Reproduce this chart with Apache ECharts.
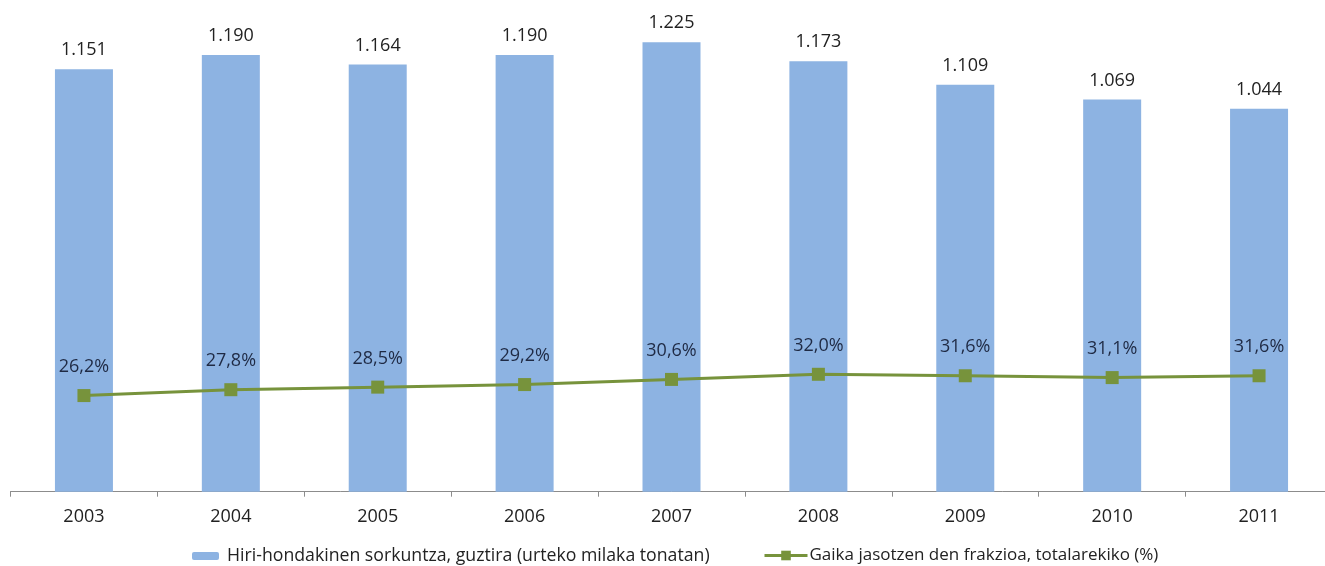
<!DOCTYPE html>
<html>
<head>
<meta charset="utf-8">
<script src="https://cdn.jsdelivr.net/npm/echarts@6/dist/echarts.min.js"></script>
<style>html,body{margin:0;padding:0;background:#fff;overflow:hidden}#c{width:1340px;height:566px}</style>
</head>
<body>
<div id="c"></div>
<script>
var categories = ['2003','2004','2005','2006','2007','2008','2009','2010','2011'];
var generation = [1151, 1190, 1164, 1190, 1225, 1173, 1109, 1069, 1044];
var separateFraction = [26.2, 27.8, 28.5, 29.2, 30.6, 32.0, 31.6, 31.1, 31.6];
var barName = 'Hiri-hondakinen sorkuntza, guztira (urteko milaka tonatan)';
var lineName = 'Gaika jasotzen den frakzioa, totalarekiko (%)';

var FONT = '"Open Sans", "Noto Sans", sans-serif';
function fmtThousands(v){ return String(v).replace(/\B(?=(\d{3})+(?!\d))/g, '.'); }
function fmtPct(v){ return v.toFixed(1).replace('.', ',') + '%'; }

var chart = echarts.init(document.getElementById('c'), null, {renderer:'canvas'});
chart.setOption({
  animation: false,
  backgroundColor: '#ffffff',
  grid: { left: 10.5, width: 1322, top: 14.7, height: 477, containLabel: false },
  legend: [
    { data: [barName], left: 192, top: 547, padding: 0, itemWidth: 27, itemHeight: 8, itemGap: 8,
      textStyle: { fontFamily: FONT, fontSize: 17.7, color: '#222', padding: [0,0,0,3] } },
    { data: [lineName], left: 763, top: 547, padding: 0, itemWidth: 43, itemHeight: 12, itemGap: 2,
      lineStyle: { width: 3 },
      textStyle: { fontFamily: FONT, fontSize: 17, color: '#222', padding: [0,0,0,-3] } }
  ],
  xAxis: {
    type: 'category', data: categories, boundaryGap: true,
    axisLine: { show: true, lineStyle: { color: '#8c8c8c', width: 1 } },
    axisTick: { show: true, length: 5, inside: false, lineStyle: { color: '#8c8c8c' } },
    axisLabel: { margin: 16, fontFamily: FONT, fontSize: 18, color: '#222' }
  },
  yAxis: [
    { type: 'value', min: 0, max: 1300, show: false, splitLine: { show: false } },
    { type: 'value', min: 0, max: 130, show: false, splitLine: { show: false } }
  ],
  series: [
    { name: barName, type: 'bar', data: generation, yAxisIndex: 0, barWidth: 58,
      itemStyle: { color: '#8DB3E2' },
      label: { show: true, position: 'top', distance: 10, fontFamily: FONT, fontSize: 18, color: '#222',
        formatter: function(p){ return fmtThousands(p.value); } } },
    { name: lineName, type: 'line', data: separateFraction, yAxisIndex: 1,
      symbol: 'rect', symbolSize: 13,
      lineStyle: { color: '#77933C', width: 3 },
      itemStyle: { color: '#77933C' },
      label: { show: true, position: 'top', distance: 13, fontFamily: FONT, fontSize: 18, color: '#1f2a44',
        formatter: function(p){ return fmtPct(p.value); } } }
  ]
});
</script>
</body>
</html>
